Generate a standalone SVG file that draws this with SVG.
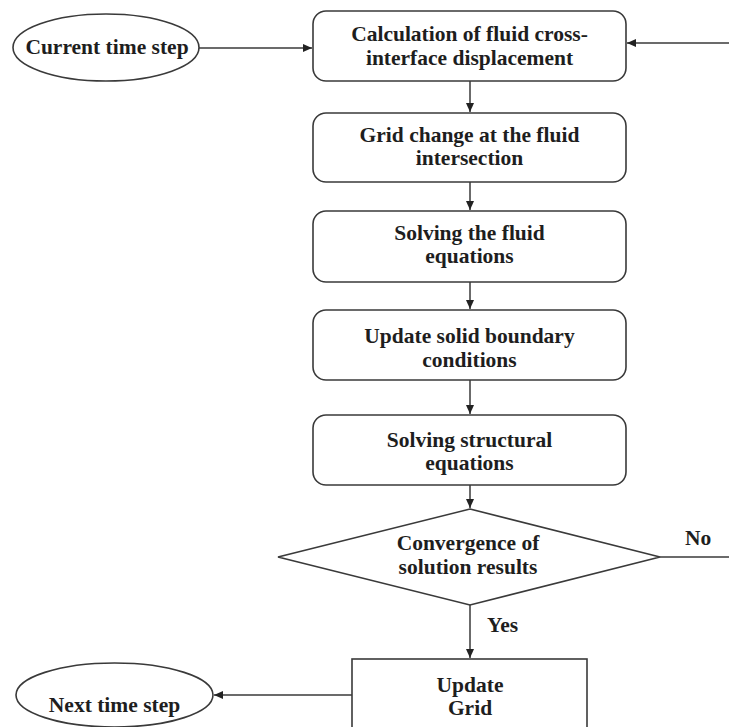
<svg xmlns="http://www.w3.org/2000/svg" width="729" height="727" viewBox="0 0 729 727">
<style>
.shape{fill:#fff;stroke:#3a3a3a;stroke-width:1.6}
.t{font-family:"Liberation Serif","Times New Roman",serif;font-weight:bold;font-size:21.5px;fill:#1e1e1e;text-anchor:middle}
.lbl{font-family:"Liberation Serif","Times New Roman",serif;font-weight:bold;font-size:21.5px;fill:#1e1e1e}
.c{fill:none;stroke:#3a3a3a;stroke-width:1.5}
</style>
<defs>
<marker id="arr" markerWidth="10" markerHeight="8" refX="9" refY="4" orient="auto" markerUnits="userSpaceOnUse">
<path d="M0,0 L9,4 L0,8 Z" fill="#222"/>
</marker>
</defs>
<rect width="729" height="727" fill="#fff"/>
<g id="connectors">
<line class="c" x1="199" y1="48" x2="312" y2="48" marker-end="url(#arr)"/>
<line class="c" x1="729" y1="43" x2="627" y2="43" marker-end="url(#arr)"/>
<line class="c" x1="470" y1="81" x2="470" y2="112" marker-end="url(#arr)"/>
<line class="c" x1="470" y1="182" x2="470" y2="210" marker-end="url(#arr)"/>
<line class="c" x1="470" y1="282" x2="470" y2="309" marker-end="url(#arr)"/>
<line class="c" x1="470" y1="380" x2="470" y2="414" marker-end="url(#arr)"/>
<line class="c" x1="470" y1="485" x2="470" y2="508" marker-end="url(#arr)"/>
<line class="c" x1="660" y1="557" x2="729" y2="557"/>
<line class="c" x1="470" y1="605" x2="470" y2="658" marker-end="url(#arr)"/>
<line class="c" x1="352" y1="695" x2="214" y2="695" marker-end="url(#arr)"/>
<text class="lbl" x="685" y="545">No</text>
<text class="lbl" x="487" y="632">Yes</text>
</g>
<g id="current">
<ellipse class="shape" cx="106" cy="47.5" rx="93" ry="33.5"/>
<text class="t" x="107" y="54">Current time step</text>
</g>
<g id="calc">
<rect class="shape" x="313" y="11" width="313" height="70" rx="13"/>
<text class="t" x="469.5" y="41">Calculation of fluid cross-</text>
<text class="t" x="469.5" y="65">interface displacement</text>
</g>
<g id="grid-change">
<rect class="shape" x="313" y="113" width="313" height="69" rx="13"/>
<text class="t" x="469.5" y="142">Grid change at the fluid</text>
<text class="t" x="469.5" y="165">intersection</text>
</g>
<g id="solve-fluid">
<rect class="shape" x="313" y="211" width="313" height="71" rx="13"/>
<text class="t" x="469.5" y="240">Solving the fluid</text>
<text class="t" x="469.5" y="263">equations</text>
</g>
<g id="update-solid">
<rect class="shape" x="313" y="310" width="313" height="70" rx="13"/>
<text class="t" x="469.5" y="343">Update solid boundary</text>
<text class="t" x="469.5" y="367">conditions</text>
</g>
<g id="solve-struct">
<rect class="shape" x="313" y="415" width="313" height="70" rx="13"/>
<text class="t" x="469.5" y="447">Solving structural</text>
<text class="t" x="469.5" y="470">equations</text>
</g>
<g id="convergence">
<polygon class="shape" points="470,509 660,557 470,605 278,557"/>
<text class="t" x="468" y="550">Convergence of</text>
<text class="t" x="468" y="574">solution results</text>
</g>
<g id="update-grid">
<rect class="shape" x="352" y="659" width="235" height="90"/>
<text class="t" x="470" y="692">Update</text>
<text class="t" x="470" y="715">Grid</text>
</g>
<g id="next">
<ellipse class="shape" cx="114.5" cy="695" rx="98.5" ry="32"/>
<text class="t" x="114.5" y="712">Next time step</text>
</g>
</svg>
